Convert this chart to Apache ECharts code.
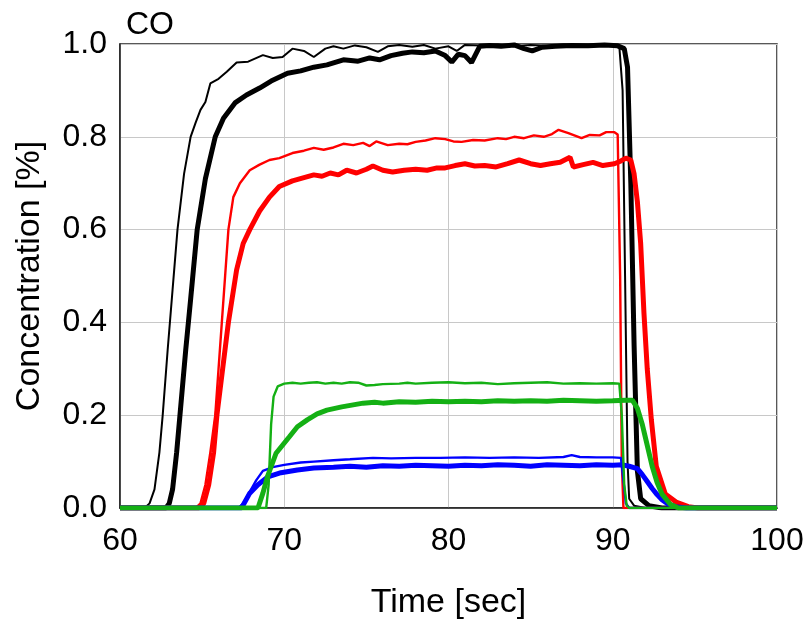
<!DOCTYPE html>
<html><head><meta charset="utf-8">
<script src="https://cdn.jsdelivr.net/npm/echarts@6/dist/echarts.min.js"></script>
<style>html,body{margin:0;padding:0;background:#fff}#c{width:809px;height:621px}</style>
</head><body><div id="c"></div>
<script>
var xTicks = [60, 70, 80, 90, 100];
var yTicks = [0, 0.2, 0.4, 0.6, 0.8, 1.0];

var blackThin = [[60,0],[61.5,0],[61.8,0.01],[62.1,0.04],[62.4,0.12],[62.6,0.2],[62.9,0.34],[63.2,0.47],[63.5,0.6],[63.9,0.72],[64.3,0.8],[64.6,0.83],[64.9,0.858],[65.2,0.875],[65.5,0.915],[66,0.925],[66.5,0.94],[67.1,0.96],[67.8,0.962],[68.7,0.976],[69.3,0.97],[69.9,0.972],[70.5,0.99],[71.2,0.985],[71.8,0.972],[72.5,0.99],[73,0.995],[73.6,0.99],[74.3,0.997],[75,0.993],[75.7,0.983],[76.3,0.995],[77,0.998],[77.8,0.994],[78.5,0.998],[79.2,0.99],[80,0.995],[80.5,0.985],[81,0.998],[82,0.997],[83,0.999],[84,0.995],[85,0.998],[86,0.996],[87,0.999],[88,0.997],[89,0.998],[90,0.997],[90.4,0.995],[90.6,0.9],[90.75,0.5],[90.9,0.1],[91.0,0.02],[91.3,0.005],[92,0],[100,0]];
var blackThick = [[60,0],[62.8,0],[63.0,0.01],[63.2,0.04],[63.45,0.12],[63.65,0.2],[64.0,0.34],[64.3,0.45],[64.7,0.6],[65.2,0.71],[65.8,0.8],[66.3,0.84],[67.0,0.873],[67.7,0.89],[68.5,0.905],[69.2,0.92],[70.2,0.937],[71,0.942],[71.8,0.95],[72.6,0.955],[73.6,0.966],[74.5,0.963],[75.2,0.97],[75.8,0.966],[76.5,0.975],[77.2,0.98],[77.8,0.983],[78.5,0.981],[79.2,0.985],[79.8,0.975],[80.2,0.961],[80.6,0.978],[81.0,0.975],[81.4,0.96],[81.9,0.995],[82.5,0.997],[83.2,0.995],[84,0.998],[84.6,0.99],[85.1,0.985],[85.7,0.993],[86.5,0.995],[87.5,0.997],[88.5,0.996],[89.5,0.998],[90.3,0.996],[90.7,0.99],[90.9,0.95],[91.1,0.7],[91.3,0.35],[91.5,0.08],[91.7,0.02],[92.2,0.005],[93,0],[100,0]];
var redThin = [[60,0],[64.6,0],[64.9,0.01],[65.2,0.05],[65.5,0.12],[65.8,0.2],[66.0,0.3],[66.2,0.4],[66.4,0.5],[66.6,0.6],[66.9,0.67],[67.3,0.7],[67.9,0.728],[68.5,0.74],[69.1,0.75],[69.7,0.754],[70.5,0.765],[71.2,0.77],[71.8,0.776],[72.4,0.772],[73,0.777],[73.6,0.785],[74.2,0.782],[74.8,0.787],[75.2,0.78],[75.6,0.79],[76.3,0.782],[77,0.785],[77.5,0.784],[78,0.789],[78.6,0.792],[79.2,0.797],[79.8,0.795],[80.3,0.79],[80.8,0.789],[81.5,0.793],[82.2,0.792],[83,0.797],[83.5,0.795],[84,0.8],[84.6,0.797],[85.2,0.803],[85.8,0.8],[86.3,0.806],[86.7,0.815],[87.3,0.808],[88.1,0.797],[88.6,0.804],[89.2,0.803],[89.6,0.81],[90.1,0.81],[90.3,0.805],[90.45,0.5],[90.55,0.1],[90.65,0],[100,0]];
var redThick = [[60,0],[64.8,0],[65.1,0.01],[65.4,0.05],[65.7,0.12],[65.9,0.2],[66.25,0.3],[66.6,0.4],[67.1,0.513],[67.5,0.57],[67.9,0.6],[68.5,0.64],[69.1,0.67],[69.7,0.693],[70.5,0.705],[71.2,0.712],[71.8,0.718],[72.3,0.715],[72.8,0.722],[73.3,0.718],[73.8,0.728],[74.4,0.722],[75,0.73],[75.4,0.737],[76,0.728],[76.6,0.724],[77.3,0.728],[78,0.73],[78.7,0.728],[79.3,0.733],[79.8,0.733],[80.4,0.738],[81,0.742],[81.6,0.737],[82.2,0.738],[82.9,0.735],[83.6,0.742],[84.3,0.75],[85,0.742],[85.6,0.738],[86.2,0.742],[86.8,0.745],[87.4,0.756],[87.6,0.735],[88.2,0.74],[88.8,0.745],[89.4,0.738],[90.1,0.742],[90.5,0.748],[90.8,0.754],[91.1,0.75],[91.3,0.72],[91.5,0.66],[91.7,0.57],[91.9,0.42],[92.1,0.3],[92.35,0.19],[92.65,0.09],[93.2,0.03],[93.9,0.012],[94.6,0.003],[95.2,0],[100,0]];
var greenThin = [[60,0],[68.9,0],[69.05,0.05],[69.2,0.18],[69.35,0.24],[69.6,0.262],[70,0.268],[70.5,0.27],[71,0.268],[71.5,0.27],[72,0.271],[72.5,0.268],[73,0.27],[73.5,0.268],[74,0.271],[74.5,0.27],[75,0.264],[75.5,0.265],[76,0.267],[77,0.268],[77.5,0.27],[78,0.268],[79,0.27],[80,0.271],[81,0.269],[82,0.27],[83,0.267],[84,0.269],[85,0.27],[86,0.271],[87,0.268],[88,0.269],[89,0.268],[90,0.269],[90.4,0.268],[90.55,0.2],[90.7,0.05],[90.85,0.005],[91,0],[100,0]];
var greenThick = [[60,0],[68.4,0],[68.7,0.032],[69.0,0.07],[69.5,0.118],[70.3,0.153],[70.8,0.175],[71.4,0.19],[72,0.203],[72.6,0.211],[73.5,0.218],[74.8,0.226],[75.5,0.228],[76,0.226],[77,0.229],[78,0.228],[79,0.23],[80,0.229],[81,0.23],[82,0.229],[83,0.231],[84,0.23],[85,0.231],[86,0.23],[87,0.232],[88,0.231],[89,0.23],[90,0.231],[90.8,0.232],[91.2,0.232],[91.5,0.215],[91.8,0.18],[92.0,0.15],[92.4,0.09],[92.7,0.055],[93.0,0.03],[93.5,0.008],[94,0],[100,0]];
var blueThin = [[60,0],[67.2,0],[67.5,0.01],[67.9,0.035],[68.3,0.06],[68.7,0.08],[69.3,0.088],[70,0.093],[71,0.098],[71.8,0.1],[73,0.103],[74,0.105],[75.4,0.108],[76.5,0.107],[78,0.108],[79.5,0.108],[81,0.109],[82.5,0.108],[84,0.109],[85.5,0.108],[87,0.11],[87.5,0.114],[88,0.11],[89,0.109],[90,0.109],[90.5,0.108],[90.65,0.06],[90.8,0.01],[91,0],[100,0]];
var blueThick = [[60,0],[67.4,0],[67.9,0.032],[68.4,0.05],[69,0.067],[69.8,0.076],[70.8,0.082],[71.8,0.086],[73,0.088],[74,0.09],[75,0.088],[76,0.091],[77,0.09],[78,0.092],[79,0.091],[80,0.09],[81,0.092],[82,0.091],[83,0.093],[84,0.092],[85,0.09],[86,0.093],[87,0.092],[88,0.091],[89,0.093],[90,0.092],[90.6,0.093],[91,0.09],[91.5,0.085],[91.8,0.072],[92.1,0.057],[92.4,0.042],[92.7,0.029],[93,0.018],[93.3,0.01],[93.8,0.003],[94.5,0],[100,0]];

var FONT = 'Liberation Sans, Arial, sans-serif';
function line(name, data, color, width, z) {
  return {name: name, type: 'line', data: data, showSymbol: false, symbol: 'none',
    lineStyle: {color: color, width: width}, itemStyle: {color: color}, z: z, animation: false};
}
var chart = echarts.init(document.getElementById('c'), null, {renderer: 'canvas'});
chart.setOption({
  animation: false,
  backgroundColor: '#fff',
  title: {text: 'CO', left: 121, top: 4, textStyle: {fontFamily: FONT, fontSize: 32, fontWeight: 'normal', color: '#000'}},
  grid: {left: 120, right: 32, top: 44, bottom: 113, show: true, borderColor: '#222', borderWidth: 1.5, backgroundColor: 'transparent', containLabel: false, outerBoundsMode: 'none'},
  xAxis: {type: 'value', min: xTicks[0], max: xTicks[xTicks.length - 1], interval: 10,
    name: 'Time [sec]', nameLocation: 'middle', nameGap: 78,
    nameTextStyle: {fontFamily: FONT, fontSize: 34, color: '#000'},
    axisLine: {show: true, lineStyle: {color: '#222', width: 1.5}}, axisTick: {show: false},
    axisLabel: {fontFamily: FONT, fontSize: 32, color: '#000', margin: 17},
    splitLine: {show: true, lineStyle: {color: '#c8c8c8', width: 1}}},
  yAxis: {type: 'value', min: yTicks[0], max: yTicks[yTicks.length - 1], interval: 0.2,
    name: 'Concentration [%]', nameLocation: 'middle', nameGap: 73,
    nameTextStyle: {fontFamily: FONT, fontSize: 34, color: '#000'},
    axisLine: {show: true, lineStyle: {color: '#222', width: 1.5}}, axisTick: {show: false},
    axisLabel: {fontFamily: FONT, fontSize: 32, color: '#000', margin: 13, formatter: function (v) { return v.toFixed(1); }},
    splitLine: {show: true, lineStyle: {color: '#c8c8c8', width: 1}}},
  series: [
    line('black thin', blackThin, '#000000', 2, 2),
    line('black thick', blackThick, '#000000', 5, 2),
    line('red thin', redThin, '#ff0000', 2.4, 3),
    line('red thick', redThick, '#ff0000', 5, 3),
    line('blue thin', blueThin, '#0000ff', 2.4, 4),
    line('blue thick', blueThick, '#0000ff', 5, 4),
    line('green thin', greenThin, '#14b014', 2.4, 5),
    line('green thick', greenThick, '#14b014', 5, 5)
  ]
});
</script></body></html>
